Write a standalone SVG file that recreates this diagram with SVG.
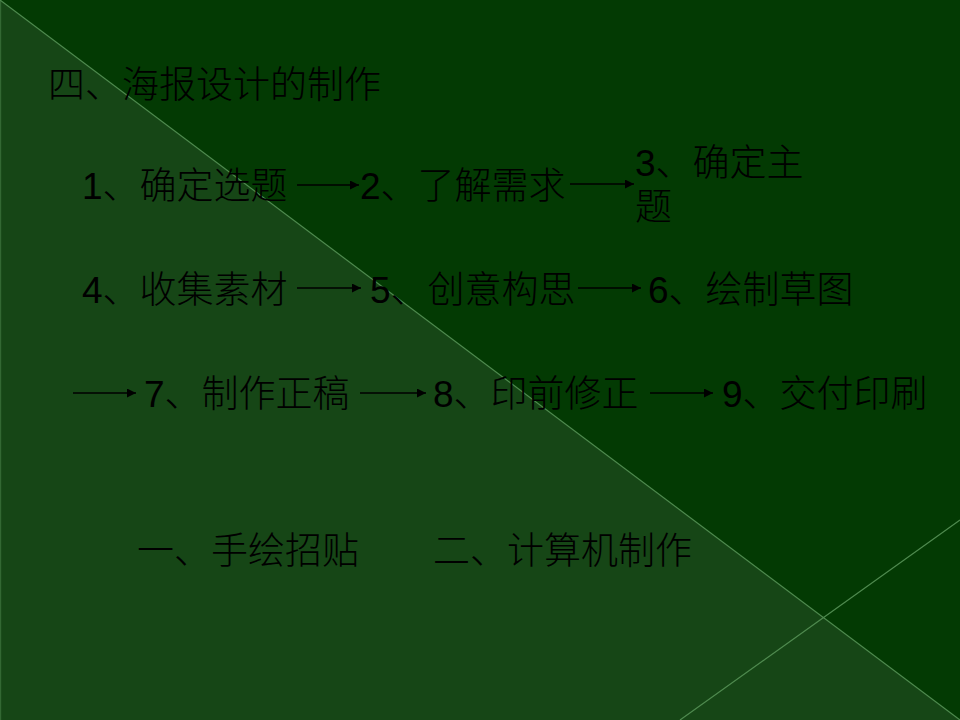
<svg xmlns="http://www.w3.org/2000/svg" width="960" height="720" viewBox="0 0 960 720">
<defs>
<style>
.t{font-family:"Liberation Sans","Noto Sans CJK SC",sans-serif;font-size:37px;font-weight:300;fill:#000}
.c{stroke:#000;stroke-width:1.5;fill:none;marker-end:url(#ah)}
.deco{stroke:#4f8a4f;stroke-width:1.2;fill:none}
</style>
<marker id="ah" viewBox="0 0 10 10" refX="10" refY="5" markerWidth="6" markerHeight="6" orient="auto" markerUnits="strokeWidth">
<path d="M0,0 L10,5 L0,10 Z" fill="#000"/>
</marker>
</defs>
<g id="background">
<rect x="0" y="0" width="960" height="720" fill="#033a03"/>
<polygon points="0,0 960,720 0,720" fill="#164616"/>
<line class="deco" x1="0" y1="0" x2="960" y2="720"/>
<line class="deco" x1="680" y1="720" x2="960" y2="520"/>
<line class="deco" x1="0.6" y1="0" x2="0.6" y2="720" stroke-opacity="0.5"/>
</g>
<g id="title"><text class="t" x="48" y="98">四、海报设计的制作</text></g>
<g id="n1"><text class="t" x="82" y="199">1、确定选题</text></g>
<g id="n2"><text class="t" x="360" y="199">2、了解需求</text></g>
<g id="n3"><text class="t" x="635" y="176">3、确定主</text><text class="t" x="635" y="220">题</text></g>
<g id="n4"><text class="t" x="82" y="303">4、收集素材</text></g>
<g id="n5"><text class="t" x="370" y="303">5、创意构思</text></g>
<g id="n6"><text class="t" x="648" y="303">6、绘制草图</text></g>
<g id="n7"><text class="t" x="144" y="407">7、制作正稿</text></g>
<g id="n8"><text class="t" x="433" y="407">8、印前修正</text></g>
<g id="n9"><text class="t" x="722" y="407">9、交付印刷</text></g>
<g id="m1"><text class="t" x="137" y="564">一、手绘招贴</text></g>
<g id="m2"><text class="t" x="433" y="564">二、计算机制作</text></g>
<g id="connectors">
<line class="c" x1="297" y1="185" x2="359" y2="185"/>
<line class="c" x1="570" y1="184" x2="634" y2="184"/>
<line class="c" x1="297" y1="288" x2="361" y2="288"/>
<line class="c" x1="578" y1="288" x2="641" y2="288"/>
<line class="c" x1="73" y1="393" x2="136" y2="393"/>
<line class="c" x1="360" y1="393" x2="426" y2="393"/>
<line class="c" x1="650" y1="393" x2="713" y2="393"/>
</g>
</svg>
